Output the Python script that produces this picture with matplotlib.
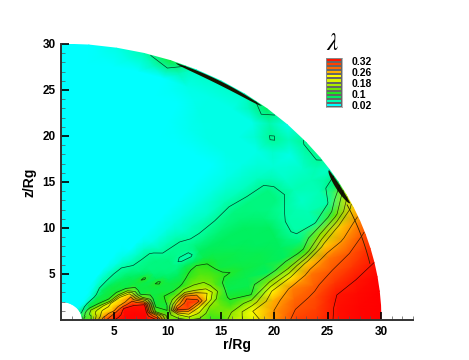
import numpy as np
import matplotlib
matplotlib.use('Agg')
import matplotlib.pyplot as plt
from matplotlib.colors import LinearSegmentedColormap, Normalize
from matplotlib.ticker import MultipleLocator

plt.rcParams['font.family'] = ['Liberation Sans', 'DejaVu Sans']
plt.rcParams['mathtext.fontset'] = 'stix'

# radial and angular grid (Rg, degrees)
radius = [2, 3, 4, 5, 6, 7, 8, 9, 10, 11, 12, 13, 14, 15, 16, 18, 20, 22, 24, 26, 28, 30]
theta = [0, 3, 6, 9, 12, 15, 18, 21, 24, 27, 30, 33, 36, 40, 45, 50, 55, 60, 65, 70, 75, 80, 85, 90]

# lambda, one row per radius, polar cap is plain cyan inside
cap = [.02, .02, .02, .02, .02, .02, .02, .02]
lam_2 = [.09, .09, .09, .08, .08, .07, .07, .06, .05, .05, .04, .03, .03, .02, .02, .02] + cap
lam_3 = [.16, .15, .15, .15, .16, .16, .15, .14, .12, .09, .085, .08, .06, .03, .02, .02] + cap
lam_4 = [.28, .27, .25, .24, .23, .22, .20, .17, .13, .10, .09, .09, .08, .05, .03, .02] + cap
lam_5 = [.32, .31, .30, .28, .25, .24, .23, .22, .14, .10, .09, .09, .085, .08, .055, .03] + cap
lam_6 = [.335, .335, .33, .33, .32, .28, .25, .24, .22, .14, .10, .09, .09, .08, .06, .04] + cap
lam_7 = [.335, .335, .335, .33, .325, .31, .28, .26, .22, .14, .09, .085, .085, .075, .062, .035] + cap
lam_8 = [.335, .335, .33, .325, .32, .25, .14, .09, .09, .09, .09, .085, .08, .07, .06, .03] + cap
lam_9 = [.32, .26, .12, .10, .09, .09, .09, .09, .09, .085, .105, .08, .07, .065, .045, .03] + cap
lam_10 = [.14, .12, .10, .09, .10, .10, .09, .09, .105, .08, .075, .07, .07, .065, .04, .02] + cap
lam_11 = [.12, .18, .30, .24, .16, .11, .09, .09, .08, .075, .07, .07, .07, .065, .04, .02] + cap
lam_12 = [.14, .22, .30, .31, .28, .16, .105, .09, .08, .07, .07, .07, .065, .05, .03, .02] + cap
lam_13 = [.13, .17, .22, .30, .26, .16, .13, .11, .095, .08, .055, .065, .065, .05, .03, .02] + cap
lam_14 = [.11, .12, .14, .20, .22, .16, .13, .12, .11, .08, .055, .065, .065, .05, .03, .02] + cap
lam_15 = [.11, .13, .13, .12, .14, .12, .12, .11, .10, .085, .08, .07, .06, .04, .03, .02] + cap
lam_16 = [.16, .14, .11, .095, .085, .09, .105, .09, .09, .085, .08, .07, .06, .045, .03, .02] + cap
lam_18 = [.20, .22, .16, .095, .085, .085, .09, .085, .085, .08, .08, .075, .065, .04, .03, .02] + cap
lam_20 = [.26, .26, .25, .22, .14, .08, .085, .085, .08, .08, .08, .075, .07, .05, .03, .02] + cap
lam_22 = [.30, .29, .28, .27, .225, .13, .08, .08, .08, .08, .075, .07, .07, .045, .03, .02] + cap
lam_24 = [.305, .30, .295, .285, .275, .24, .11, .07, .055, .055, .062, .07, .07, .045, .03, .03, .03, .025, .02, .02, .02, .02, .02, .02]
lam_26 = [.325, .325, .32, .305, .29, .275, .24, .14, .055, .05, .04, .05, .04, .035, .03, .03, .03, .03, .02, .02, .02, .02, .02, .02]
lam_28 = [.335, .335, .33, .32, .305, .29, .265, .24, .12, .055, .05, .05, .04, .03, .065, .03, .03, .03, .03, .02, .02, .02, .02, .02]
lam_30 = [.34, .34, .34, .335, .32, .31, .295, .27, .24, .17, .08, .04, .065, .065, .03, .08, .04, .04, .04, .09, .05, .03, .02, .02]

lam = np.array([lam_2, lam_3, lam_4, lam_5, lam_6, lam_7, lam_8, lam_9, lam_10, lam_11, lam_12,
                lam_13, lam_14, lam_15, lam_16, lam_18, lam_20, lam_22, lam_24, lam_26, lam_28, lam_30])

line_levels = [.06, .10, .14, .18, .22, .26, .29, .32]
color_nodes = [.02, .04, .06, .08, .10, .14, .18, .22, .26, .29, .32, .34]
node_colors = ['#00FFFF', '#00FFC8', '#00FFA0', '#00F060', '#20E820', '#88E800', '#CCF000',
               '#FFFF00', '#FF9900', '#FF5500', '#FF1500', '#FF0000']

# legend bands bottom to top, labels are spaced evenly like the original
legend_values = [.02, .05, .08, .10, .13, .16, .19, .22, .25, .28, .30, .32]
legend_labels = ['0.02', '0.1', '0.18', '0.26', '0.32']

# dark rim along the outer edge where the contours pile up (degrees)
rim_high = [51, 69]
rim_low = [25, 33]
rim_thin = [12, 25]

norm = Normalize(color_nodes[0], color_nodes[-1])
cmap = LinearSegmentedColormap.from_list(
    'lam', [(norm(v), c) for v, c in zip(color_nodes, node_colors)])

fig = plt.figure(figsize=(4.69, 3.6), dpi=100)
ax = fig.add_axes([61 / 469, 40 / 360, 352 / 469, 276 / 360])

t = np.radians(theta)
rr, tt = np.meshgrid(radius, t, indexing='ij')
x = rr * np.cos(tt)
z = rr * np.sin(tt)
ax.pcolormesh(x, z, lam, cmap=cmap, norm=norm, shading='gouraud', rasterized=True)
ax.contour(x, z, lam, levels=line_levels, colors='black', linewidths=0.5, alpha=0.75)

for a, depth in [(rim_high, 0.4), (rim_low, 0.45)]:
    ang = np.radians(np.linspace(a[0], a[1], 40))
    inner = 29.95 - depth * np.sin(np.linspace(0, np.pi, 40)) ** 0.5
    ax.fill(np.r_[29.95 * np.cos(ang), (inner * np.cos(ang))[::-1]],
            np.r_[29.95 * np.sin(ang), (inner * np.sin(ang))[::-1]],
            color='#151500', lw=0)
ang = np.radians(np.linspace(rim_thin[0], rim_thin[1], 30))
ax.plot(29.6 * np.cos(ang), 29.6 * np.sin(ang), color='#332200', lw=0.6)

ax.set_xlim(0, 33)
ax.set_ylim(0, 30)
ax.spines['top'].set_visible(False)
ax.spines['right'].set_visible(False)
for s in ['left', 'bottom']:
    ax.spines[s].set_linewidth(1.4)
    ax.spines[s].set_color('#333333')

ax.set_xticks([5, 10, 15, 20, 25, 30])
ax.set_yticks([5, 10, 15, 20, 25, 30])
ax.xaxis.set_minor_locator(MultipleLocator(1))
ax.yaxis.set_minor_locator(MultipleLocator(1))
ax.tick_params(which='major', direction='in', length=6, width=1.2, labelsize=8.5, pad=4)
ax.tick_params(which='minor', direction='in', length=3, width=0.5, color='#555555')
for lab in ax.get_xticklabels() + ax.get_yticklabels():
    lab.set_fontweight('bold')
ax.set_xlabel('r/Rg', fontsize=10, fontweight='bold', labelpad=0)
ax.set_ylabel('z/Rg', fontsize=10, fontweight='bold', labelpad=4)

# legend
cax = fig.add_axes([326 / 469, 253 / 360, 16 / 469, 49 / 360])
bands = np.array(legend_values).reshape(-1, 1)
cax.pcolormesh(np.arange(2), np.arange(len(legend_values) + 1), bands, cmap=cmap, norm=norm,
               edgecolors='#666666', linewidth=0.2)
cax.set_xticks([])
cax.set_yticks(np.linspace(0.5, len(legend_values) - 0.8, len(legend_labels)))
cax.set_yticklabels(legend_labels, fontsize=7.5, fontweight='bold')
cax.yaxis.tick_right()
cax.tick_params(length=0, pad=7)
for s in cax.spines.values():
    s.set_color('#999999')
    s.set_linewidth(0.5)
fig.text(333 / 469, 1 - 43 / 360, r'$\lambda$', fontsize=18, ha='center', va='center')

plt.savefig('out.png', dpi=100)
